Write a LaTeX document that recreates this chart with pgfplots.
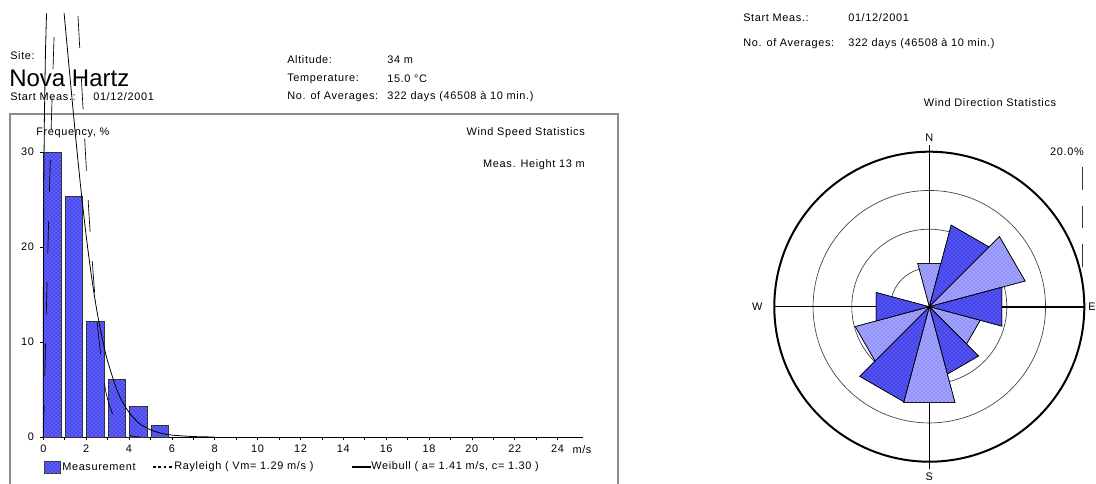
\documentclass[border=0pt]{standalone}
\usepackage{fontspec}
\setmainfont{Liberation Sans}
\usepackage{pgfplots}
\pgfplotsset{compat=1.18}
\usepgfplotslibrary{polar}
\usetikzlibrary{patterns}
\newfontfamily\lsf{Liberation Sans}[LetterSpace=6]
\newcommand\sm{\lsf\fontsize{8.2}{9.8}\selectfont}
\definecolor{barb}{RGB}{72,72,240}
\definecolor{bardot}{RGB}{175,175,255}
\definecolor{darkb}{RGB}{66,66,236}
\definecolor{darkdot}{RGB}{160,160,255}
\definecolor{lightb}{RGB}{145,145,250}
\definecolor{lightdot}{RGB}{225,225,255}
\definecolor{framec}{RGB}{140,140,140}
\begin{document}
\begin{tikzpicture}
\begin{scope}[x=0.75pt,y=0.75pt]
\path[use as bounding box] (0,0) rectangle (1096,483);
% ---------- left header
\node[anchor=west,inner sep=0,font=\sm] at (10,427) {Site:};
\node[anchor=west,inner sep=0,font=\fontsize{18}{21}\selectfont] at (9,405) {Nova Hartz};
\node[anchor=west,inner sep=0,font=\sm] at (10,386) {Start Meas.:};
\node[anchor=west,inner sep=0,font=\sm] at (93,386) {01/12/2001};
\node[anchor=west,inner sep=0,font=\sm] at (287,423) {Altitude:};
\node[anchor=west,inner sep=0,font=\sm] at (387,423) {34 m};
\node[anchor=west,inner sep=0,font=\sm] at (287,404) {Temperature:};
\node[anchor=west,inner sep=0,font=\sm] at (387,404) {15.0 °C};
\node[anchor=west,inner sep=0,font=\sm] at (287,386) {No. of Averages:};
\node[anchor=west,inner sep=0,font=\sm] at (387,386) {322 days (46508 à 10 min.)};
% ---------- right header
\node[anchor=west,inner sep=0,font=\sm] at (743,465) {Start Meas.:};
\node[anchor=west,inner sep=0,font=\sm] at (848,465) {01/12/2001};
\node[anchor=west,inner sep=0,font=\sm] at (743,439) {No. of Averages:};
\node[anchor=west,inner sep=0,font=\sm] at (848,439) {322 days (46508 à 10 min.)};
\node[inner sep=0,font=\sm] at (990,380) {Wind Direction Statistics};
% ---------- frame
\draw[framec,line width=1.1pt] (10,-5) -- (10,369) -- (618,369) -- (618,-5);
\node[anchor=west,inner sep=0,font=\sm] at (36,350) {Frequency, \%};
\node[anchor=east,inner sep=0,font=\sm] at (585,350) {Wind Speed Statistics};
\node[anchor=east,inner sep=0,font=\sm] at (585,318) {Meas. Height 13 m};
\node[inner sep=0,font=\sm] at (582,33) {m/s};
% ---------- legend
\filldraw[fill=barb, draw=black!80, line width=0.5pt, postaction={pattern=crosshatch dots, pattern color=bardot}] (44,10) rectangle (60,22);
\node[anchor=west,inner sep=0,font=\sm] at (62,16) {Measurement};
\draw[black, line width=0.9pt, dash pattern=on 2pt off 2pt] (153,16) -- (173,16);
\node[anchor=west,inner sep=0,font=\sm] at (174,16) {Rayleigh ( Vm= 1.29 m/s )};
\draw[black, line width=1.2pt] (352,16) -- (371,16);
\node[anchor=west,inner sep=0,font=\sm] at (371,16) {Weibull ( a= 1.41 m/s, c= 1.30 )};
% ---------- wind rose scale mark
\node[inner sep=0,font=\sm] at (1067,331) {20.0\%};
\draw[black!80, line width=0.6pt, dash pattern=on 17pt off 12pt] (1082,316) -- (1082,205);
\end{scope}
% ---------- histogram
\begin{axis}[
  at={(32.475pt,34.5pt)}, anchor=origin,
  scale only axis, width=405pt, height=213.75pt,
  xmin=0, xmax=25.2, ymin=0, ymax=30,
  axis x line*=bottom, axis y line*=left,
  axis line style={black, line width=0.7pt, -},
  xtick={0,2,...,24}, minor xtick={1,3,...,23},
  ytick={0,10,20,30},
  tick align=outside, major tick length=2.5pt, minor tick length=2.5pt,
  tick style={black, line width=0.5pt},
  ticklabel style={font=\sm},
  yticklabel style={xshift=-1pt},
  /pgf/number format/assume math mode=true,
  clip=false,
]
\addplot[ybar, bar width=0.82, fill=barb, draw=black!80, line width=0.5pt,
  postaction={pattern=crosshatch dots, pattern color=bardot}]
  coordinates {(0.43,30.0) (1.43,25.3) (2.43,12.2) (3.43,6.1) (4.43,3.2) (5.43,1.2)};
% Weibull ( a= 1.41 m/s, c= 1.30 )
\addplot[black, line width=0.6pt] coordinates {(0,0) (0.005,17.0) (0.01,20.9) (0.02,25.7) (0.05,33.4) (0.1,40.4) (0.15,44.6)};
\addplot[black, line width=0.6pt, smooth] coordinates {(0.97,44.6) (1.0,43.9) (1.2,39.0) (1.5,31.8) (1.75,26.2) (2.0,21.2) (2.25,16.9) (2.5,13.3) (2.75,10.4) (3.0,8.0) (3.5,4.6) (4.0,2.6) (4.5,1.4) (5.0,0.76) (5.5,0.4) (6.0,0.2) (7.0,0.05) (8.0,0)};
% Rayleigh ( Vm= 1.29 m/s )
\addplot[black, line width=0.5pt, dash pattern=on 24pt off 22pt] coordinates {(0,0) (0.1,9.4) (0.2,18.5) (0.3,27.1) (0.4,35.0) (0.5,42.0) (0.54,44.4)};
\addplot[black, line width=0.5pt, dash pattern=on 24pt off 22pt, smooth] coordinates {(1.62,44.3) (1.8,36.8) (2.0,28.6) (2.2,21.1) (2.5,12.4) (2.8,6.5) (3.0,4.0) (3.5,1.0) (4.0,0.2) (4.5,0)};
\end{axis}
% ---------- wind rose
\begin{polaraxis}[
  at={(696.975pt,132.225pt)}, anchor=origin,
  scale only axis, width=232.5pt, height=232.5pt,
  ymin=0, ymax=20,
  xtick={0,90,180,270}, xticklabels={},
  ytick={5,10,15}, yticklabels={},
  xmajorgrids=false, ymajorgrids=true,
  major grid style={black!75, line width=0.5pt},
  axis line style={black, line width=1.5pt},
  major tick length=0pt,
  clip=false,
]
\draw[black, line width=0.6pt] (axis cs:90,20.9) -- (axis cs:270,20.9);
\draw[black, line width=0.6pt] (axis cs:0,20.1) -- (axis cs:180,20.1);
% N
\addplot[fill=lightb, draw=black, line width=0.4pt, postaction={pattern=crosshatch dots, pattern color=lightdot}] coordinates {(0,0) (75,5.8) (105,5.8) (0,0)};
% NNE
\addplot[fill=darkb, draw=black, line width=0.4pt, postaction={pattern=crosshatch dots, pattern color=darkdot}] coordinates {(0,0) (45,10.9) (75,10.9) (0,0)};
% ENE
\addplot[fill=lightb, draw=black, line width=0.4pt, postaction={pattern=crosshatch dots, pattern color=lightdot}] coordinates {(0,0) (15,12.8) (45,12.8) (0,0)};
% E
\addplot[fill=darkb, draw=black, line width=0.4pt, postaction={pattern=crosshatch dots, pattern color=darkdot}] coordinates {(0,0) (-15,9.7) (15,9.7) (0,0)};
% ESE
\addplot[fill=lightb, draw=black, line width=0.4pt, postaction={pattern=crosshatch dots, pattern color=lightdot}] coordinates {(0,0) (-45,6.8) (-15,6.8) (0,0)};
% SSE
\addplot[fill=darkb, draw=black, line width=0.4pt, postaction={pattern=crosshatch dots, pattern color=darkdot}] coordinates {(0,0) (-75,9.0) (-45,9.0) (0,0)};
% S
\addplot[fill=lightb, draw=black, line width=0.4pt, postaction={pattern=crosshatch dots, pattern color=lightdot}] coordinates {(0,0) (-105,12.8) (-75,12.8) (0,0)};
% SSW
\addplot[fill=darkb, draw=black, line width=0.4pt, postaction={pattern=crosshatch dots, pattern color=darkdot}] coordinates {(0,0) (-135,12.7) (-105,12.7) (0,0)};
% WSW
\addplot[fill=lightb, draw=black, line width=0.4pt, postaction={pattern=crosshatch dots, pattern color=lightdot}] coordinates {(0,0) (-165,9.9) (-135,9.9) (0,0)};
% W
\addplot[fill=darkb, draw=black, line width=0.4pt, postaction={pattern=crosshatch dots, pattern color=darkdot}] coordinates {(0,0) (165,7.1) (195,7.1) (0,0)};
\node[font=\sm, inner sep=0] at (axis cs:90,21.8) {N};
\node[font=\sm, inner sep=0] at (axis cs:270,21.9) {S};
\node[font=\sm, inner sep=0] at (axis cs:0,21.0) {E};
\node[font=\sm, inner sep=0] at (axis cs:180,22.2) {W};
\end{polaraxis}
\end{tikzpicture}
\end{document}
